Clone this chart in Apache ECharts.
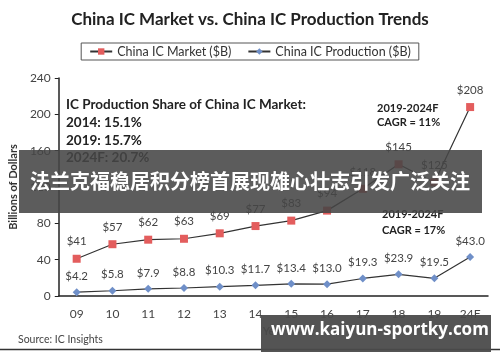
<!DOCTYPE html>
<html><head><meta charset="utf-8">
<script src="https://cdn.jsdelivr.net/npm/echarts@6/dist/echarts.min.js"></script>
<style>html,body{margin:0;padding:0;background:#fff}#c{width:500px;height:362px}</style>
</head><body><div id="c"></div>
<script>
const categories = ['09','10','11','12','13','14','15','16','17','18','19','24F'];
const marketValues = [41,57,62,63,69,77,83,94,118,145,125,208];
const productionValues = [4.2,5.8,7.9,8.8,10.3,11.7,13.4,13.0,19.3,23.9,19.5,43.0];
const marketLabels = ['$41','$57','$62','$63','$69','$77','$83','$94','$118','$145','$125','$208'];
const productionLabels = ['$4.2','$5.8','$7.9','$8.8','$10.3','$11.7','$13.4','$13.0','$19.3','$23.9','$19.5','$43.0'];
const yTicks = [0,40,80,120,160,200,240];

const F = 'Lato, "Open Sans", sans-serif';
const chart = echarts.init(document.getElementById('c'));
chart.setOption({
  animation:false,
  title:{text:'China IC Market vs. China IC Production Trends',left:'center',top:6,
    textStyle:{fontFamily:F,fontSize:17,fontWeight:'bold',color:'#222'}},
  legend:{top:43,left:'center',borderColor:'#555',borderWidth:1,padding:[2,8],itemGap:16,
    itemWidth:22,itemHeight:8,textStyle:{fontFamily:F,fontSize:12.5,color:'#333'},
    data:['China IC Market ($B)','China IC Production ($B)']},
  grid:{left:50,right:12,top:78,bottom:66},
  xAxis:{type:'category',data:categories,boundaryGap:true,
    name:'Year',nameLocation:'middle',nameGap:30,nameTextStyle:{fontFamily:F,fontSize:11,fontWeight:'bold',color:'#333'},
    axisLine:{lineStyle:{color:'#222',width:1.5}},
    axisTick:{inside:true,length:4,lineStyle:{color:'#222'}},
    axisLabel:{fontFamily:F,fontSize:12,color:'#444',margin:12}},
  yAxis:{type:'value',min:yTicks[0],max:yTicks[yTicks.length-1],interval:40,
    name:'Billions of Dollars',nameLocation:'middle',nameGap:36,nameRotate:90,
    nameTextStyle:{fontFamily:F,fontSize:11,fontWeight:'bold',color:'#333'},
    splitLine:{show:false},
    axisLine:{show:true,lineStyle:{color:'#222',width:1.5}},
    axisTick:{show:true,length:4,lineStyle:{color:'#222'}},
    axisLabel:{fontFamily:F,fontSize:12,color:'#444',margin:8}},
  series:[
    {name:'China IC Market ($B)',type:'line',data:marketValues,symbol:'rect',symbolSize:8,
      lineStyle:{color:'#333',width:1.2},itemStyle:{color:'#e35d5d'},
      label:{show:true,position:'top',distance:7,fontFamily:F,fontSize:11.5,color:'#444',
        formatter:p=>marketLabels[p.dataIndex]}},
    {name:'China IC Production ($B)',type:'line',data:productionValues,symbol:'diamond',symbolSize:8,
      lineStyle:{color:'#333',width:1.2},itemStyle:{color:'#6f8fc8'},
      label:{show:true,position:'top',distance:6,fontFamily:F,fontSize:11.5,color:'#444',
        formatter:p=>productionLabels[p.dataIndex]}}
  ],
  graphic:[
    {type:'text',left:66,top:96,style:{text:'IC Production Share of China IC Market:\n2014: 15.1%\n2019: 15.7%\n2024F: 20.7%',
      font:'bold 13.5px '+F,fill:'#222',lineHeight:17.7}},
    {type:'text',left:377,top:101,style:{text:'2019-2024F\nCAGR = 11%',font:'bold 11px '+F,fill:'#222',lineHeight:14.5}},
    {type:'text',left:382,top:206,style:{text:'2019-2024F\nCAGR = 17%',font:'bold 11px '+F,fill:'#222',lineHeight:16}},
    {type:'text',left:18,top:334,style:{text:'Source: IC Insights',font:'10.5px '+F,fill:'#444'}},
    {type:'line',shape:{x1:0,y1:349.5,x2:500,y2:349.5},style:{stroke:'#333',lineWidth:1.5}},
    {type:'rect',z:100,shape:{x:19,y:150,width:463,height:63},style:{fill:'rgba(70,70,70,0.88)'}},
    {type:'text',z:101,left:'center',top:171,style:{text:'法兰克福稳居积分榜首展现雄心壮志引发广泛关注',
      font:'bold 20px "Noto Sans CJK SC", sans-serif',fill:'#fff'}},
    {type:'rect',z:100,shape:{x:261,y:315,width:230,height:37},style:{fill:'rgba(75,75,75,0.95)'}},
    {type:'text',z:101,left:271,top:322,style:{text:'www.kaiyun-sportky.com',font:'bold 17px "Open Sans", sans-serif',fill:'#fff'}}
  ]
});
</script></body></html>
